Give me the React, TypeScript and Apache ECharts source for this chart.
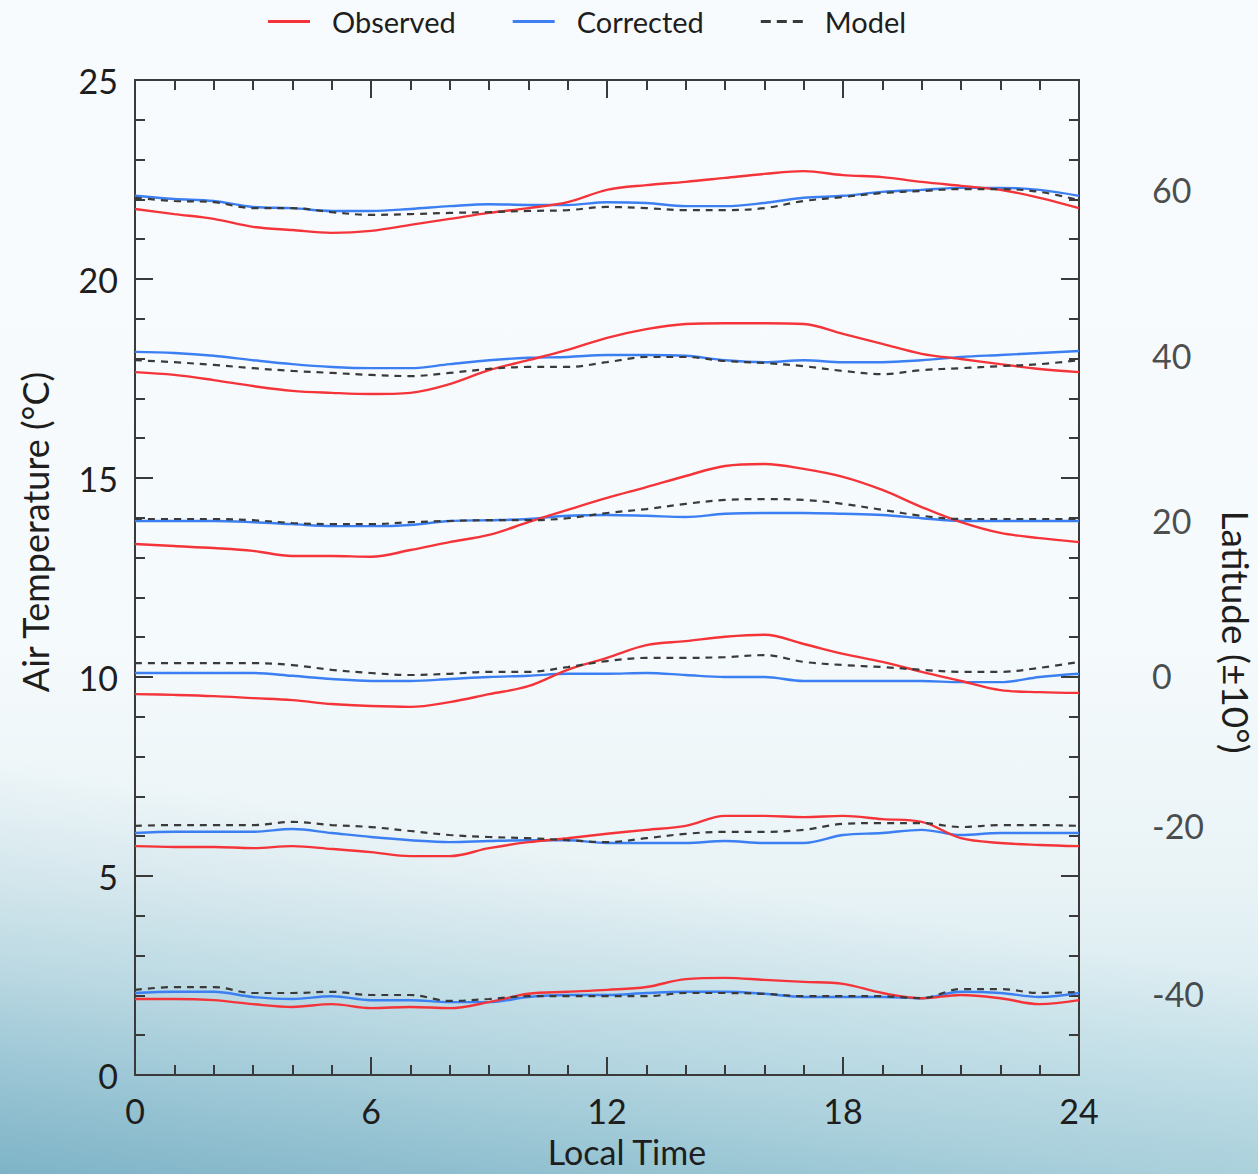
import React, { useEffect, useRef } from "react";
import * as echarts from "echarts";

const hours = [0, 1, 2, 3, 4, 5, 6, 7, 8, 9, 10, 11, 12, 13, 14, 15, 16, 17, 18, 19, 20, 21, 22, 23, 24];

// Latitude 60
const obs60 = [21.76, 21.63, 21.51, 21.31, 21.23, 21.16, 21.21, 21.36, 21.51, 21.66, 21.78, 21.93, 22.24, 22.36, 22.44, 22.54, 22.64, 22.71, 22.61, 22.56, 22.44, 22.34, 22.24, 22.04, 21.78];
const cor60 = [22.09, 22.01, 21.96, 21.81, 21.78, 21.71, 21.71, 21.76, 21.83, 21.88, 21.86, 21.86, 21.93, 21.91, 21.83, 21.83, 21.91, 22.04, 22.09, 22.19, 22.24, 22.29, 22.29, 22.24, 22.09];
const mod60 = [22.04, 21.96, 21.93, 21.78, 21.78, 21.68, 21.61, 21.63, 21.66, 21.68, 21.71, 21.73, 21.81, 21.78, 21.73, 21.73, 21.78, 21.96, 22.06, 22.16, 22.21, 22.26, 22.26, 22.19, 21.98];
// Latitude 40
const obs40 = [17.66, 17.59, 17.46, 17.31, 17.19, 17.14, 17.11, 17.14, 17.36, 17.71, 17.96, 18.22, 18.52, 18.74, 18.87, 18.89, 18.89, 18.87, 18.62, 18.37, 18.12, 17.99, 17.86, 17.74, 17.66];
const cor40 = [18.17, 18.14, 18.07, 17.96, 17.86, 17.79, 17.76, 17.76, 17.86, 17.96, 18.02, 18.04, 18.09, 18.09, 18.07, 17.96, 17.91, 17.96, 17.91, 17.91, 17.96, 18.04, 18.09, 18.14, 18.19];
const mod40 = [17.96, 17.91, 17.84, 17.76, 17.69, 17.64, 17.59, 17.56, 17.64, 17.74, 17.79, 17.79, 17.91, 18.04, 18.04, 17.94, 17.89, 17.81, 17.69, 17.61, 17.71, 17.76, 17.81, 17.86, 17.96];
// Latitude 20
const obs20 = [13.34, 13.29, 13.24, 13.17, 13.04, 13.04, 13.02, 13.19, 13.39, 13.57, 13.89, 14.2, 14.5, 14.77, 15.05, 15.3, 15.35, 15.23, 15.03, 14.7, 14.27, 13.89, 13.62, 13.49, 13.39];
const cor20 = [13.92, 13.92, 13.92, 13.89, 13.84, 13.79, 13.79, 13.82, 13.92, 13.94, 13.97, 14.05, 14.07, 14.05, 14.02, 14.1, 14.12, 14.12, 14.1, 14.07, 13.99, 13.92, 13.92, 13.92, 13.92];
const mod20 = [13.97, 13.97, 13.97, 13.94, 13.87, 13.84, 13.84, 13.89, 13.92, 13.94, 13.94, 13.99, 14.12, 14.22, 14.35, 14.45, 14.47, 14.45, 14.35, 14.2, 14.05, 13.97, 13.97, 13.97, 13.97];
// Latitude 0
const obs0 = [9.57, 9.55, 9.52, 9.47, 9.42, 9.32, 9.27, 9.25, 9.37, 9.57, 9.77, 10.18, 10.48, 10.8, 10.9, 11.01, 11.06, 10.83, 10.58, 10.38, 10.13, 9.9, 9.67, 9.62, 9.6];
const cor0 = [10.1, 10.1, 10.1, 10.1, 10.03, 9.95, 9.9, 9.9, 9.95, 10.0, 10.03, 10.08, 10.08, 10.1, 10.05, 10.0, 10.0, 9.9, 9.9, 9.9, 9.9, 9.87, 9.87, 10.0, 10.08];
const mod0 = [10.35, 10.35, 10.35, 10.35, 10.3, 10.18, 10.1, 10.05, 10.08, 10.13, 10.13, 10.25, 10.4, 10.48, 10.48, 10.5, 10.55, 10.38, 10.3, 10.25, 10.18, 10.13, 10.13, 10.23, 10.38];
// Latitude -20
const obsM20 = [5.75, 5.73, 5.73, 5.7, 5.75, 5.68, 5.6, 5.5, 5.5, 5.7, 5.85, 5.95, 6.06, 6.16, 6.26, 6.51, 6.51, 6.48, 6.51, 6.43, 6.36, 5.95, 5.83, 5.78, 5.75];
const corM20 = [6.08, 6.11, 6.11, 6.11, 6.18, 6.08, 5.98, 5.9, 5.85, 5.88, 5.9, 5.9, 5.83, 5.83, 5.83, 5.88, 5.83, 5.83, 6.03, 6.08, 6.16, 6.03, 6.08, 6.08, 6.08];
const modM20 = [6.26, 6.28, 6.28, 6.28, 6.36, 6.28, 6.23, 6.13, 6.03, 5.98, 5.95, 5.9, 5.85, 5.95, 6.06, 6.11, 6.11, 6.16, 6.31, 6.33, 6.33, 6.23, 6.28, 6.28, 6.26];
// Latitude -40
const obsM40 = [1.91, 1.91, 1.88, 1.78, 1.71, 1.78, 1.68, 1.71, 1.68, 1.83, 2.04, 2.09, 2.14, 2.21, 2.41, 2.44, 2.39, 2.34, 2.29, 2.06, 1.93, 2.01, 1.93, 1.78, 1.88];
const corM40 = [2.06, 2.09, 2.09, 1.96, 1.91, 1.98, 1.88, 1.88, 1.83, 1.83, 1.96, 2.01, 2.01, 2.06, 2.09, 2.09, 2.04, 1.96, 1.96, 1.96, 1.93, 2.09, 2.06, 1.96, 2.06];
const modM40 = [2.14, 2.21, 2.21, 2.06, 2.06, 2.09, 2.01, 2.01, 1.86, 1.91, 1.98, 1.98, 1.98, 1.98, 2.06, 2.06, 2.04, 1.98, 1.98, 1.98, 1.93, 2.16, 2.16, 2.06, 2.09];

const observedGroups = [obs60, obs40, obs20, obs0, obsM20, obsM40];
const correctedGroups = [cor60, cor40, cor20, cor0, corM20, corM40];
const modelGroups = [mod60, mod40, mod20, mod0, modM20, modM40];

const latitudeLabels = ["60", "40", "20", "0", "-20", "-40"];
const latitudeLevels = [22.24, 18.09, 13.92, 10.03, 6.26, 2.06];

const RED = "#f5343a";
const BLUE = "#3b7ff2";
const DARK = "#3a3a3a";
const FONT = "Lato";
const TEXT = "#1e1e1e";

const toPairs = (vals: number[]) => vals.map((v, i) => [hours[i], v]);

export default function App() {
  const ref = useRef<HTMLDivElement>(null);
  useEffect(() => {
    if (!ref.current) return;
    const chart = echarts.init(ref.current, undefined, { renderer: "svg" });

    const series: any[] = [];
    observedGroups.forEach((g) =>
      series.push({
        name: "Observed",
        type: "line",
        data: toPairs(g),
        showSymbol: false,
        symbol: "none",
        smooth: 0.35,
        lineStyle: { color: RED, width: 2.4 },
        itemStyle: { color: RED },
        z: 3,
      })
    );
    correctedGroups.forEach((g) =>
      series.push({
        name: "Corrected",
        type: "line",
        data: toPairs(g),
        showSymbol: false,
        symbol: "none",
        smooth: 0.35,
        lineStyle: { color: BLUE, width: 2.4 },
        itemStyle: { color: BLUE },
        z: 2,
      })
    );
    modelGroups.forEach((g) =>
      series.push({
        name: "Model",
        type: "line",
        data: toPairs(g),
        showSymbol: false,
        symbol: "none",
        smooth: 0.35,
        lineStyle: { color: DARK, width: 2.2, type: [7, 6] },
        itemStyle: { color: DARK },
        z: 4,
      })
    );
    series.push({
      name: "latitude",
      type: "scatter",
      data: latitudeLevels.map((v, i) => [24, v, latitudeLabels[i]]),
      symbolSize: 1,
      clip: false,
      silent: true,
      itemStyle: { color: "rgba(0,0,0,0)" },
      label: {
        show: true,
        position: "inside",
        offset: [73, 0],
        align: "left",
        verticalAlign: "middle",
        formatter: (p: any) => p.data[2],
        fontFamily: FONT,
        fontSize: 34,
        color: TEXT,
        textBorderWidth: 0,
      },
    });

    const axisLine = { show: true, onZero: false, lineStyle: { color: DARK, width: 2 } };
    const tick = { show: true, inside: true, length: 18, lineStyle: { color: DARK, width: 2 } };
    const minorTick = (n: number) => ({ show: true, splitNumber: n, length: 10, lineStyle: { color: DARK, width: 2 } });

    const dashIcon = "path://M0 0h10v3H0z M16 0h10v3H16z M32 0h10v3H32z";

    chart.setOption({
      animation: false,
      backgroundColor: "transparent",
      legend: {
        data: [
          { name: "Observed", icon: "rect", itemStyle: { color: RED } },
          { name: "Corrected", icon: "rect", itemStyle: { color: BLUE } },
          { name: "Model", icon: dashIcon, itemStyle: { color: DARK } },
        ],
        left: 263,
        top: 2,
        itemWidth: 42,
        itemHeight: 3,
        itemGap: 57,
        textStyle: { fontFamily: FONT, fontSize: 29, color: TEXT, padding: [0, 0, 0, 17] },
      },
      grid: { left: 135, right: 179, top: 80, bottom: 99, show: false },
      xAxis: [
        {
          type: "value",
          min: 0,
          max: 24,
          interval: 6,
          axisLine,
          axisTick: tick,
          minorTick: minorTick(6),
          splitLine: { show: false },
          axisLabel: { fontFamily: FONT, fontSize: 34, lineHeight: 30, color: TEXT, margin: 20 },
        },
        {
          type: "value",
          position: "top",
          min: 0,
          max: 24,
          interval: 6,
          axisLine,
          axisTick: tick,
          minorTick: minorTick(6),
          splitLine: { show: false },
          axisLabel: { show: false },
        },
      ],
      yAxis: [
        {
          type: "value",
          min: 0,
          max: 25,
          interval: 5,
          axisLine,
          axisTick: tick,
          minorTick: minorTick(5),
          splitLine: { show: false },
          axisLabel: { fontFamily: FONT, fontSize: 34, color: TEXT, margin: 17 },
        },
        {
          type: "value",
          position: "right",
          min: 0,
          max: 25,
          interval: 5,
          axisLine,
          axisTick: tick,
          minorTick: minorTick(5),
          splitLine: { show: false },
          axisLabel: { show: false },
        },
      ],
      graphic: [
        {
          type: "text",
          x: 35,
          y: 532,
          rotation: Math.PI / 2,
          style: {
            text: "Air Temperature (°C)",
            fontFamily: FONT,
            fontSize: 36,
            fill: TEXT,
            align: "center",
            verticalAlign: "middle",
          },
        },
        {
          type: "text",
          x: 1236,
          y: 632,
          rotation: -Math.PI / 2,
          style: {
            text: "Latitude (±10°)",
            fontFamily: FONT,
            fontSize: 37,
            fill: TEXT,
            align: "center",
            verticalAlign: "middle",
          },
        },
        {
          type: "text",
          x: 627,
          y: 1151,
          style: {
            text: "Local Time",
            fontFamily: FONT,
            fontSize: 34,
            lineHeight: 32,
            fill: TEXT,
            align: "center",
            verticalAlign: "middle",
          },
        },
      ],
      series,
    });
    return () => chart.dispose();
  }, []);

  return (
    <div
      style={{
        position: "absolute",
        left: 0,
        top: 0,
        width: 1258,
        height: 1174,
        background:
          "linear-gradient(10deg, rgba(80,150,178,0.6) 0%, rgba(100,165,188,0.28) 15%, rgba(120,180,200,0) 30%), linear-gradient(to bottom, #f8fbfd 0%, #f5fafc 55%, #e9f3f6 75%, #d2e8ee 90%, #c3e0e7 100%)",
      }}
    >
      <div ref={ref} style={{ width: 1258, height: 1174 }} />
    </div>
  );
}
